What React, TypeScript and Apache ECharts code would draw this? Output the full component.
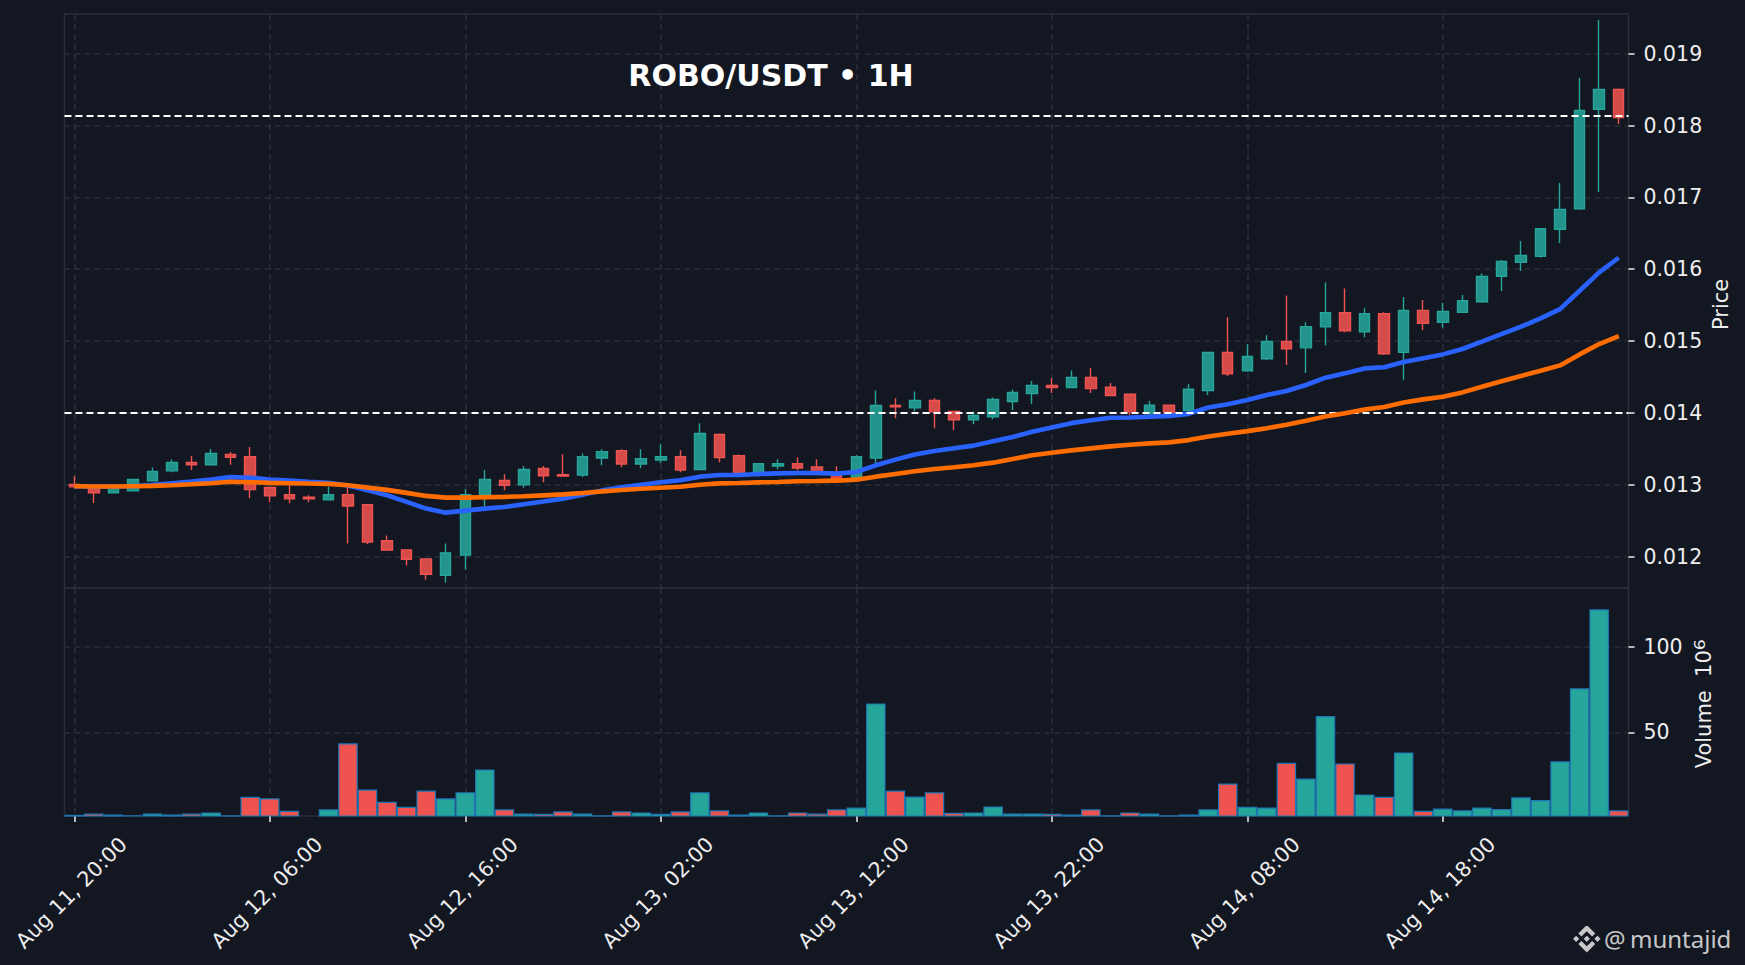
import React, { useEffect, useRef } from "react";
import * as echarts from "echarts";

const title = "ROBO/USDT • 1H";

const opens = [13002,12979,12886,12914,13054,13193,13310,13277,13422,13389,12960,12862,12825,12788,12862,12723,12219,12093,11967,11739,12019,12862,13058,12998,13226,13140,13135,13372,13475,13289,13344,13391,13210,13698,13405,13130,13261,13293,13247,13163,13098,13372,14102,14070,14172,14019,13902,13944,14158,14268,14383,14351,14494,14356,14259,13986,14106,14032,14310,14841,14587,14753,14993,14905,15197,15395,15127,15381,14842,15427,15260,15399,15547,15900,16095,16179,16554,16842,18225,18503];
const closes = [12970,12886,12970,13072,13184,13310,13277,13436,13380,12932,12844,12802,12802,12862,12704,12200,12089,11963,11753,12051,12862,13072,12993,13212,13124,13121,13391,13461,13289,13363,13391,13205,13712,13377,13163,13293,13293,13233,13160,13089,13391,14102,14084,14172,14014,13902,13963,14186,14284,14383,14351,14494,14337,14240,14014,14106,14005,14328,14841,14545,14785,14993,14892,15201,15395,15141,15381,14822,15427,15246,15413,15561,15900,16109,16192,16564,16833,18211,18503,18113];
const highs = [13119,12985,12975,13072,13240,13352,13399,13497,13455,13524,12960,12993,12853,12970,12970,12723,12294,12093,11967,12182,12937,13203,13147,13259,13259,13423,13433,13493,13493,13493,13563,13479,13856,13712,13419,13293,13354,13377,13354,13256,13409,14312,14205,14298,14205,14019,14019,14214,14326,14444,14485,14591,14624,14416,14259,14166,14106,14397,14841,15331,14956,15081,15635,15261,15816,15733,15455,15400,15612,15571,15529,15640,15942,16128,16392,16564,17199,18661,19468,18517];
const lows = [12946,12746,12880,12914,13049,13175,13203,13277,13277,12811,12755,12741,12755,12788,12182,12173,12089,11874,11678,11636,11818,12634,12923,12956,13035,13121,13107,13270,13242,13228,13298,13172,13200,13312,13140,13110,13214,13196,13130,13080,13090,13293,13926,14023,13786,13758,13842,13912,14037,14125,14277,14351,14277,14240,13972,13980,13985,14020,14249,14513,14573,14735,14665,14554,14942,15123,15053,14804,14462,15153,15186,15399,15534,15696,15974,16160,16364,16828,17074,18021];
const emaFast = [12979,12974,12974,12979,12998,13021,13044,13072,13105,13096,13072,13058,13040,13026,12988,12923,12853,12760,12667,12611,12639,12667,12690,12727,12765,12805,12861,12921,12963,13000,13033,13061,13112,13135,13135,13149,13158,13163,13163,13154,13177,13270,13349,13419,13470,13507,13544,13605,13665,13737,13797,13857,13898,13931,13935,13945,13958,13986,14074,14120,14180,14249,14305,14388,14490,14550,14619,14635,14708,14759,14814,14889,14991,15097,15200,15316,15445,15700,15956,16160];
const emaSlow = [12979,12974,12974,12979,12984,12993,13007,13021,13040,13035,13026,13021,13016,13012,12993,12960,12928,12886,12844,12820,12820,12825,12830,12839,12852,12865,12884,12907,12926,12944,12958,12972,13000,13019,13024,13033,13038,13047,13051,13056,13070,13112,13149,13186,13219,13242,13270,13307,13358,13409,13446,13478,13506,13533,13556,13575,13589,13621,13672,13709,13746,13787,13834,13889,13949,13995,14046,14083,14143,14188,14225,14285,14364,14439,14513,14587,14661,14814,14958,15070];
const volumes = [1.9,2.7,2.1,1.6,2.7,2.1,2.7,3.3,1.6,12.4,11.5,4.3,1.3,5.1,43.6,16.7,9.5,6.6,16.1,11.5,15,28.4,5.1,2.7,2.5,3.9,2.7,1.6,3.9,3.3,2.5,3.9,15,4.5,2.1,3.3,1.6,3.3,2.7,5.1,6.2,66.9,16.1,12.6,15,3.1,3.3,6.8,2.7,2.7,2.5,2.1,5.1,1.6,3.3,2.7,1.6,2.1,5.1,20.2,6.6,6.2,32.3,23.1,59.5,31.9,13.8,12.4,38.3,4.3,5.6,4.5,6.2,5.3,12.1,10.5,33.1,75.7,121.8,4.5];
const levels = [0.014, 0.01814];
const priceTicks = [0.012,0.013,0.014,0.015,0.016,0.017,0.018,0.019];
const volumeTicks = [50,100];
const startDay = 11;
const startHour = 20;
const logoPath = "M16.624 13.92l2.717 2.7-7.353 7.37-7.36-7.36 2.71-2.71 4.65 4.65 4.636-4.65zm4.637-4.64L24 12l-2.722 2.71-2.72-2.71 2.703-2.72zm-9.273 0l2.75 2.73-2.75 2.75-2.72-2.73 2.72-2.75zM2.71 9.28L5.45 12l-2.73 2.71L0 12l2.72-2.72zM11.99 0l7.35 7.33-2.71 2.71-4.65-4.64-4.63 4.65-2.71-2.72L12 0z";

const categories = opens.map((_, i) => {
  const h = startHour + i;
  const day = startDay + Math.floor(h / 24);
  return `Aug ${day}, ${String(h % 24).padStart(2, "0")}:00`;
});
const toPrice = (v: number) => v / 1e6;

const BG = "#131722";
const GRID = "#2a2e39";
const UP = "#26a69a";
const DOWN = "#ef5350";
const TEXT = "#eeeeee";
const FONT = "'DejaVu Sans'";

export default function App() {
  const ref = useRef<HTMLDivElement>(null);
  useEffect(() => {
    document.body.style.margin = "0";
    document.body.style.background = BG;
    echarts.graphic.registerShape("binanceLogo", echarts.graphic.extendPath(logoPath, {}));
    const chart = echarts.init(ref.current!, null, { renderer: "svg" });
    const split = { show: true, lineStyle: { color: GRID, width: 1.6, type: [6, 4] as number[] } };
    chart.setOption({
      animation: false,
      backgroundColor: BG,
      textStyle: { fontFamily: FONT },
      title: {
        text: title,
        left: 766,
        top: 55,
        textAlign: "center",
        textStyle: { color: "#ffffff", fontWeight: "bold", fontSize: 30, fontFamily: FONT },
      },
      grid: [
        { left: 64.5, top: 14, width: 1564, height: 573.7, show: true, borderColor: GRID, borderWidth: 1.5, backgroundColor: "transparent", outerBoundsMode: "none" },
        { left: 64.5, top: 587.7, width: 1564, height: 228.3, show: true, borderColor: GRID, borderWidth: 1.5, backgroundColor: "transparent", outerBoundsMode: "none" },
      ],
      xAxis: [
        {
          type: "category", gridIndex: 0, data: categories,
          axisLine: { show: false }, axisTick: { show: false }, axisLabel: { show: false },
          splitLine: { ...split, interval: 9, alignWithLabel: true },
        },
        {
          type: "category", gridIndex: 1, data: categories,
          axisLine: { show: false },
          axisTick: { show: true, alignWithLabel: true, interval: 9, length: 6, lineStyle: { color: TEXT, width: 1.5 } },
          axisLabel: {
            show: true, interval: 9, rotate: 45, align: "center", verticalAlign: "middle", margin: 74, padding: [0, 8, 0, 0],
            color: TEXT, fontSize: 20.8, fontFamily: FONT, hideOverlap: false,
          },
          splitLine: { ...split, interval: 9, alignWithLabel: true },
        },
      ],
      yAxis: [
        {
          type: "value", gridIndex: 0, position: "right", min: 0.011566, max: 0.019553,
          name: "Price", nameLocation: "middle", nameRotate: 90, nameGap: 82, nameMoveOverlap: false,
          nameTextStyle: { color: TEXT, fontSize: 21, fontFamily: FONT, padding: [0, 7, 0, 0] },
          axisLine: { show: false },
          axisTick: { show: true, length: 6, customValues: priceTicks, lineStyle: { color: TEXT, width: 1.5 } },
          axisLabel: { show: true, margin: 15, color: TEXT, fontSize: 20.5, fontFamily: FONT, customValues: priceTicks, formatter: (v: number) => v.toFixed(3) },
          splitLine: split,
        },
        {
          type: "value", gridIndex: 1, position: "right", min: 1.2, max: 134.4,
          name: "Volume  10{sup|⁶}", nameLocation: "middle", nameRotate: 90, nameGap: 62, nameMoveOverlap: false,
          nameTextStyle: { color: TEXT, fontSize: 21, fontFamily: FONT, padding: [0, 4, 0, 0], rich: { sup: { color: TEXT, fontSize: 27, fontFamily: FONT } } },
          axisLine: { show: false },
          axisTick: { show: true, length: 6, customValues: volumeTicks, lineStyle: { color: TEXT, width: 1.5 } },
          axisLabel: { show: true, margin: 15, color: TEXT, fontSize: 20.5, fontFamily: FONT, customValues: volumeTicks, formatter: (v: number) => String(v) },
          splitLine: split,
        },
      ],
      series: [
        {
          type: "candlestick", xAxisIndex: 0, yAxisIndex: 0, barWidth: 11, z: 3,
          data: opens.map((o, i) => [toPrice(o), toPrice(closes[i]), toPrice(lows[i]), toPrice(highs[i])]),
          itemStyle: {
            color: "rgba(38,166,154,0.88)", color0: "rgba(239,83,80,0.88)",
            borderColor: UP, borderColor0: DOWN, borderWidth: 1.4,
          },
        },
        {
          type: "bar", xAxisIndex: 1, yAxisIndex: 1, barWidth: "100%", z: 3,
          data: volumes.map((v, i) => ({ value: v, itemStyle: { color: closes[i] >= opens[i] ? UP : DOWN } })),
          itemStyle: { borderColor: "#1f77b4", borderWidth: 1.2 },
        },
        {
          type: "line", xAxisIndex: 0, yAxisIndex: 0, showSymbol: false, z: 4,
          data: emaFast.map(toPrice), lineStyle: { color: "#2962ff", width: 4.6 },
        },
        {
          type: "line", xAxisIndex: 0, yAxisIndex: 0, showSymbol: false, z: 5,
          data: emaSlow.map(toPrice), lineStyle: { color: "#ff6d00", width: 4.6 },
          markLine: {
            silent: true, symbol: "none", precision: 8, label: { show: false },
            lineStyle: { color: "#ffffff", width: 2.2, type: [7, 4] },
            data: levels.map((l) => ({ yAxis: l })),
          },
        },
      ],
      graphic: [
        { type: "binanceLogo", x: 1573, y: 925, scaleX: 1.15, scaleY: 1.15, style: { fill: "#c8c8c8" } },
        { type: "text", x: 1604, y: 938, style: { text: "@", fill: "#c8c8c8", font: "24px 'Noto Sans'", verticalAlign: "middle" } },
        { type: "text", x: 1630, y: 938, style: { text: "muntajid", fill: "#c8c8c8", font: "24px 'Noto Sans'", verticalAlign: "middle" } },
      ],
    });
    return () => chart.dispose();
  }, []);
  return <div ref={ref} style={{ position: "fixed", left: 0, top: 0, width: 1745, height: 965 }} />;
}
